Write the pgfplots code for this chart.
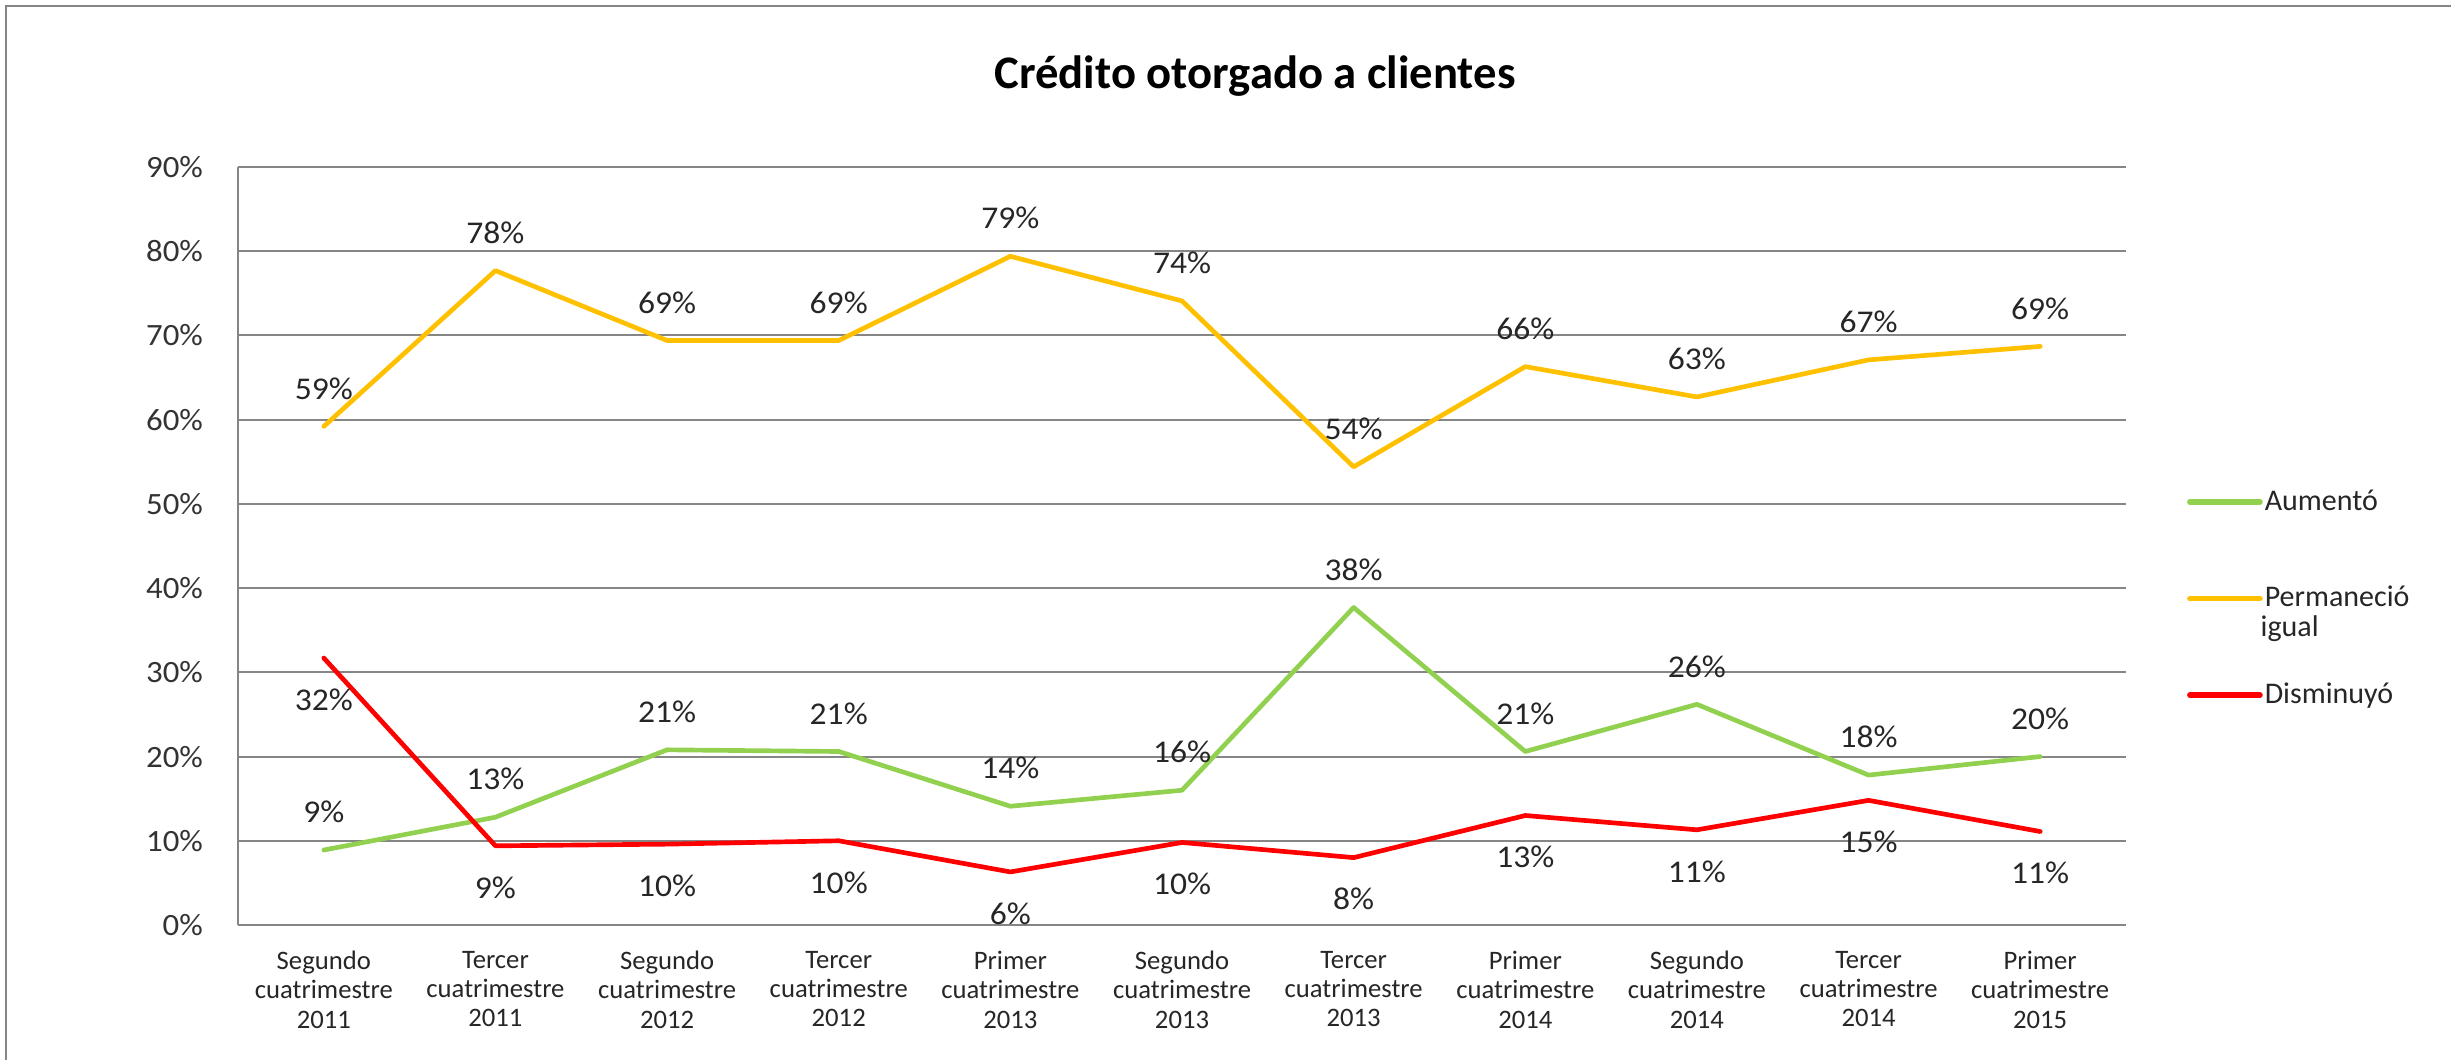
\documentclass[border=0pt]{standalone}
\usepackage{pgfplots}
\pgfplotsset{compat=1.18}
\usepackage{fontspec}
\setmainfont{Carlito}
\newfontfamily\widefont[FakeStretch=1.06]{Carlito}
\definecolor{cyellow}{HTML}{FFC000}
\definecolor{cgreen}{HTML}{92D050}
\definecolor{cred}{HTML}{FF0000}
\definecolor{cgrid}{HTML}{868686}

\pgfplotstableread{
x aum perm dis
0 8.9 59.2 31.7
1 12.8 77.7 9.4
2 20.8 69.4 9.6
3 20.6 69.4 10.0
4 14.1 79.4 6.3
5 16.0 74.1 9.8
6 37.7 54.4 8.0
7 20.6 66.3 13.0
8 26.2 62.7 11.3
9 17.8 67.1 14.8
10 20.0 68.7 11.1
}\datatable

\begin{document}
\begin{tikzpicture}
\useasboundingbox (0,0) rectangle (735.3pt,318pt);
\draw[cgrid, line width=0.8pt] (1.8pt,0) -- (1.8pt,316.2pt) -- (735.3pt,316.2pt);
\begin{axis}[
 at={(71.4pt,40.5pt)}, anchor=south west,
 scale only axis, width=566.4pt, height=227.4pt,
 xmin=-0.5, xmax=10.5, ymin=0, ymax=90,
 axis x line*=bottom, axis y line*=left,
 axis line style={cgrid, line width=0.6pt},
 xtick={0,...,10},
 xticklabels={{Segundo\\cuatrimestre\\2011},{Tercer\\cuatrimestre\\2011},{Segundo\\cuatrimestre\\2012},{Tercer\\cuatrimestre\\2012},{Primer\\cuatrimestre\\2013},{Segundo\\cuatrimestre\\2013},{Tercer\\cuatrimestre\\2013},{Primer\\cuatrimestre\\2014},{Segundo\\cuatrimestre\\2014},{Tercer\\cuatrimestre\\2014},{Primer\\cuatrimestre\\2015}},
 major tick length=0pt,
 ytick={0,10,...,90},
 ymajorgrids, grid style={cgrid, line width=0.6pt},
 /pgf/number format/assume math mode=true,
 yticklabel={\pgfmathprintnumber{\tick}\%},
 yticklabel style={font=\widefont\fontsize{9.3}{10}\selectfont, text=black!80, xshift=-7pt},
 xticklabel style={font=\fontsize{8}{8.8}\selectfont, align=center, text=black!85, yshift=-4.3pt},
 title={\textbf{Crédito otorgado a clientes}},
 title style={at={(axis description cs:0.5387,1.094)}, anchor=center, font=\fontsize{14}{16}\selectfont},
 nodes near coords={\pgfmathprintnumber[fixed,precision=0]{\pgfplotspointmeta}\%},
 every node near coord/.style={font=\widefont\fontsize{9.5}{10}\selectfont, text=black!85, anchor=center, inner sep=0pt},
 clip=false,
 legend style={at={(axis description cs:1.032,0.579)}, anchor=north west, draw=none, fill=none, inner sep=0pt, row sep=20pt, column sep=0pt, nodes={inner xsep=0.6pt, inner ysep=0pt, text height=7pt, text depth=2pt, font=\fontsize{9}{10}\selectfont, anchor=west, text=black!85}},
 legend cell align=left,
 legend image code/.code={\draw[#1, line width=1.7pt, line cap=round] (0pt,0pt) -- (21pt,0pt);},
]
\addplot[cgreen, line width=1.4pt, line join=round, line cap=round, every node near coord/.append style={yshift=11.4pt}] table[x=x, y=aum] {\datatable};
\addlegendentry{Aumentó}
\addplot[cyellow, line width=1.4pt, line join=round, line cap=round, every node near coord/.append style={yshift=11.4pt}] table[x=x, y=perm] {\datatable};
\addlegendentry{Permaneció}
\addplot[cred, line width=1.4pt, line join=round, line cap=round, every node near coord/.append style={yshift=-12.5pt}] table[x=x, y=dis] {\datatable};
\addlegendentry{Disminuyó}
\node[anchor=base west, inner sep=0pt, font=\fontsize{9}{10}\selectfont, text=black!85] at (axis description cs:1.071,0.381) {igual};
\end{axis}
\end{tikzpicture}
\end{document}
